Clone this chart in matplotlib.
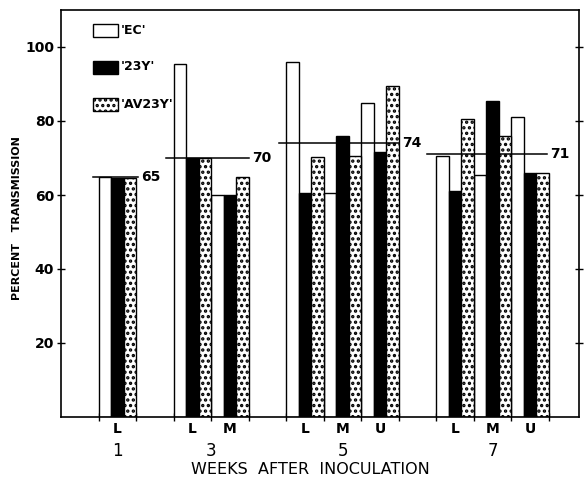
import matplotlib
matplotlib.use("Agg")
import matplotlib.pyplot as plt
import numpy as np

plt.rcParams['font.family'] = ['DejaVu Sans']
plt.rcParams['hatch.linewidth'] = 1.6

# Data
weeks = ["1", "3", "5", "7"]
week_sites = [["L"], ["L", "M"], ["L", "M", "U"], ["L", "M", "U"]]
series_names = ["'EC'", "'23Y'", "'AV23Y'"]
ec    = [65, 95.5, 60, 96, 60.5, 85, 70.5, 65.5, 81]
y23   = [64.6, 70, 60, 60.5, 76, 71.5, 61, 85.5, 66]
av23y = [64.6, 70, 65, 70.3, 70.5, 89.5, 80.5, 76, 66]
week_means = [65, 70, 74, 71]
ylabels_ticks = [20, 40, 60, 80, 100]

fig = plt.figure(figsize=(5.84, 4.79), dpi=100)
ax = fig.add_axes([61/584, 1-417/479, (579-61)/584, (417-10)/479])

# Subgroup positions (one unit each, one-unit gap between weeks)
starts = []
week_spans = []
pos = 1.0
for sites in week_sites:
    s0 = pos
    for _ in sites:
        starts.append(pos)
        pos += 1.0
    week_spans.append((s0, pos))
    pos += 1.0
starts = np.array(starts)
bw = 1/3

styles = [dict(facecolor='white', edgecolor='black', hatch=None),
          dict(facecolor='black', edgecolor='black', hatch=None),
          dict(facecolor='white', edgecolor='black', hatch='...')]
for k, vals in enumerate([ec, y23, av23y]):
    st = styles[k]
    ax.bar(starts + bw*k + bw/2, vals, width=bw, facecolor=st['facecolor'],
           edgecolor=st['edgecolor'], hatch=st['hatch'], linewidth=1.0, zorder=2)

# mean lines with labels
line_ext = [(-0.15, 0.05), (-0.2, 0.0), (-0.2, 0.0), (-0.25, -0.05)]
for (s0, s1), m, (a, b) in zip(week_spans, week_means, line_ext):
    ax.plot([s0 + a, s1 + b], [m, m], color='black', lw=1.1, zorder=3)
    ax.text(s1 + b + 0.08, m, str(m), fontsize=10, fontweight='bold',
            va='center', ha='left')

ax.set_xlim(0, 13.8)
ax.set_ylim(0, 110)
ax.set_yticks(ylabels_ticks)
ax.set_yticklabels([str(v) for v in ylabels_ticks], fontsize=10, fontweight='bold')
ax.tick_params(axis='y', direction='inout', length=6, width=1, right=True, pad=2)

# x ticks at subgroup boundaries
bounds = []
for (s0, s1) in week_spans:
    bounds.extend(np.arange(s0, s1 + 0.5, 1.0))
ax.set_xticks(bounds)
ax.set_xticklabels([])
ax.tick_params(axis='x', direction='inout', length=6, width=1)

for sp in ax.spines.values():
    sp.set_linewidth(1.2)

blend = matplotlib.transforms.blended_transform_factory(ax.transData, fig.transFigure)
# site labels and week labels
for x, lab in zip(starts, [s for sites in week_sites for s in sites]):
    ax.text(x + 0.5, 1 - 429/479, lab, fontsize=10, fontweight='bold',
            ha='center', va='center', transform=blend)
for (s0, s1), w in zip(week_spans, weeks):
    ax.text((s0 + s1) / 2, 1 - 451/479, w, fontsize=12,
            ha='center', va='center', transform=blend)

fig.text(310/584, 1-469/479, "WEEKS  AFTER  INOCULATION", fontsize=11.5,
         ha='center', va='center')
fig.text(17/584, 1-218/479, "PERCENT   TRANSMISSION", fontsize=8,
         fontweight='bold', rotation=90, ha='center', va='center')

# legend drawn as boxes
leg_y = [30, 67, 104]
for k, yy in enumerate(leg_y):
    st = styles[k]
    x0 = 93
    rect = matplotlib.patches.Rectangle((x0/584, 1-(yy+7)/479), 25/584, 13/479,
                                        transform=fig.transFigure,
                                        facecolor=st['facecolor'], edgecolor='black',
                                        hatch=st['hatch'], linewidth=1.0)
    fig.patches.append(rect)
    fig.text(121/584, 1-yy/479, series_names[k], fontsize=9, fontweight='bold',
             ha='left', va='center')

fig.savefig("out.png", dpi=100)
